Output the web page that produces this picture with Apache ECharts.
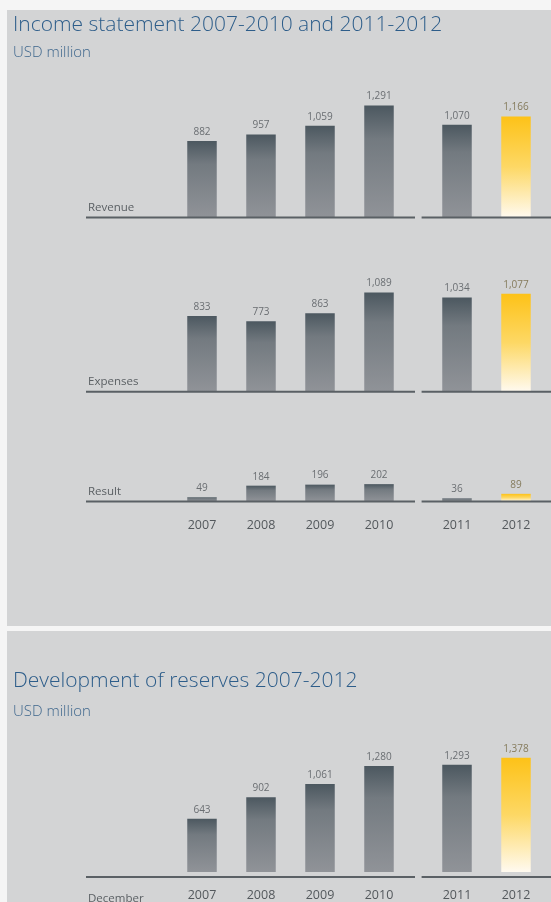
<!DOCTYPE html>
<html>
<head>
<meta charset="utf-8">
<script src="https://cdn.jsdelivr.net/npm/echarts@6/dist/echarts.min.js"></script>
<style>
  html, body { margin: 0; padding: 0; background: #f5f5f5; }
  #wrap { position: relative; width: 551px; height: 902px; overflow: hidden; }
  .panel { position: absolute; left: 7px; right: 0; background: #d3d4d5; }
  #chart { position: absolute; left: 0; top: 0; width: 551px; height: 902px; }
</style>
</head>
<body>
<div id="wrap">
  <div class="panel" style="top:10px;height:616px"></div>
  <div class="panel" style="top:631px;height:271px"></div>
  <div id="chart"></div>
</div>
<script>
// ---- data (USD million) ----
const yearsA = ['2007', '2008', '2009', '2010'];
const yearsB = ['2011', '2012'];
const revenueA = [882, 957, 1059, 1291];
const revenueB = [1070, 1166];
const expensesA = [833, 773, 863, 1089];
const expensesB = [1034, 1077];
const resultA = [49, 184, 196, 202];
const resultB = [36, 89];
const reservesA = [643, 902, 1061, 1280];
const reservesB = [1293, 1378];
const highlightYear = '2012';

// ---- layout ----
const FONT = '"Open Sans", "Noto Sans", sans-serif';
const COL_A = { left: 172.5, width: 236 };
const COL_B = { left: 427.5, width: 118 };
const LINE_A = [86, 415];
const LINE_B = [421.6, 551];
const BAR_W = 29.5;

const rows = [
  { name: 'Revenue',  a: revenueA,  b: revenueB,  base: 217.5, scale: 0.0867, max: 1500, years: false, labelDy: -10 },
  { name: 'Expenses', a: expensesA, b: expensesB, base: 391.7, scale: 0.0910, max: 1500, years: false, labelDy: -10 },
  { name: 'Result',   a: resultA,   b: resultB,   base: 501.5, scale: 0.0860, max: 300,  years: true,  labelDy: -10 },
  { name: 'December', a: reservesA, b: reservesB, base: 877.0, scale: 0.0862, max: 1500, years: true,  labelDy: 22 }
];

const grayGrad = new echarts.graphic.LinearGradient(0, 0, 0, 1, [
  { offset: 0, color: '#4c5860' },
  { offset: 0.3, color: '#737a80' },
  { offset: 1, color: '#909398' }
]);
const yellowGrad = new echarts.graphic.LinearGradient(0, 0, 0, 1, [
  { offset: 0, color: '#fdc218' },
  { offset: 0.5, color: '#fdd865' },
  { offset: 1, color: '#fffaf0' }
]);

const grid = [], xAxis = [], yAxis = [], series = [], graphic = [];

rows.forEach((row) => {
  const h = row.max * row.scale;
  [[COL_A, yearsA, row.a, LINE_A], [COL_B, yearsB, row.b, LINE_B]].forEach(([col, cats, vals, line]) => {
    const gi = grid.length;
    grid.push({ left: col.left, width: col.width, top: row.base - h, height: h });
    xAxis.push({
      type: 'category', gridIndex: gi, data: cats,
      axisLine: { show: false }, axisTick: { show: false },
      axisLabel: { show: row.years, margin: 17, fontFamily: FONT, fontSize: 12.5, color: '#53585c' }
    });
    yAxis.push({ type: 'value', gridIndex: gi, min: 0, max: row.max, show: false });
    series.push({
      type: 'bar', xAxisIndex: gi, yAxisIndex: gi, barWidth: BAR_W,
      data: vals.map((v, i) => {
        const hi = cats[i] === highlightYear;
        return {
          value: v,
          itemStyle: { color: hi ? yellowGrad : grayGrad },
          label: { color: hi ? '#857b5c' : '#6a6e72' }
        };
      }),
      label: {
        show: true, position: 'top', distance: 4,
        fontFamily: FONT, fontSize: 10,
        formatter: p => p.value.toLocaleString('en-US')
      },
      silent: true
    });
    // baseline rule
    graphic.push({
      type: 'line', z: 10,
      shape: { x1: line[0], y1: row.base, x2: line[1], y2: row.base },
      style: { stroke: '#5a6065', lineWidth: 2 }
    });
  });
  // row caption
  graphic.push({
    type: 'text', left: 88, top: row.base + row.labelDy - 6,
    style: { text: row.name, font: '11.5px ' + FONT, fill: '#5b6064' }
  });
});

const titleStyle = { fontFamily: FONT, fontSize: 21, fontWeight: 300, color: '#2d5d8a', lineHeight: 26 };
const subStyle = { fontFamily: FONT, fontSize: 15, fontWeight: 300, color: '#3f678d', lineHeight: 16 };

const option = {
  animation: false,
  textStyle: { fontFamily: FONT },
  title: [
    {
      text: 'Income statement 2007-2010 and 2011-2012',
      subtext: 'USD million',
      left: 13, top: 12, padding: 0, itemGap: 7,
      textStyle: titleStyle, subtextStyle: subStyle
    },
    {
      text: 'Development of reserves 2007-2012',
      subtext: 'USD million',
      left: 13, top: 668.5, padding: 0, itemGap: 9,
      textStyle: titleStyle, subtextStyle: subStyle
    }
  ],
  grid, xAxis, yAxis, series, graphic
};

const chart = echarts.init(document.getElementById('chart'), null, { renderer: 'canvas' });
chart.setOption(option);
</script>
</body>
</html>
